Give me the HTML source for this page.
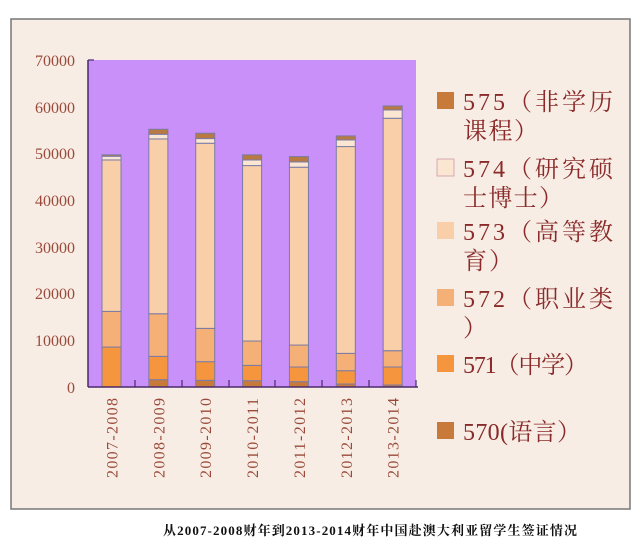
<!DOCTYPE html>
<html><head><meta charset="utf-8"><style>
body{margin:0;width:640px;height:549px;background:#fff;overflow:hidden}
</style></head><body>
<svg width="640" height="549" xmlns="http://www.w3.org/2000/svg" font-family="'Liberation Serif','Noto Serif CJK SC',serif">
<rect x="11" y="19" width="619" height="490" fill="#f7ede4" stroke="#777" stroke-width="1.5"/>
<rect x="88" y="60" width="328" height="327" fill="#c890f8"/>
<g id="bars" stroke="#7b7ba6" stroke-width="1"></g>
<line x1="88" y1="60" x2="88" y2="387" stroke="#4a2a6a" stroke-width="1.5"/>
<line x1="88" y1="387" x2="418" y2="387" stroke="#4a2a6a" stroke-width="1.5"/>
<g stroke="#4a2a6a" stroke-width="1.2">
<line x1="88" y1="60" x2="94" y2="60"/>
<line x1="135" y1="387" x2="135" y2="380"/><line x1="182" y1="387" x2="182" y2="380"/><line x1="229" y1="387" x2="229" y2="380"/><line x1="275" y1="387" x2="275" y2="380"/><line x1="322" y1="387" x2="322" y2="380"/><line x1="369" y1="387" x2="369" y2="380"/><line x1="416" y1="387" x2="416" y2="380"/>
</g>
<g fill="#9a4a3a" font-size="16" text-anchor="end">
<text x="75" y="66">70000</text><text x="75" y="113">60000</text><text x="75" y="159">50000</text><text x="75" y="206">40000</text><text x="75" y="253">30000</text><text x="75" y="299">20000</text><text x="75" y="346">10000</text><text x="75" y="393">0</text>
</g>
<g fill="#9a4a3a" font-size="16" id="xl"></g>
<g font-size="24" fill="#8a2a2a">
<rect x="437" y="92" width="17" height="17" fill="#c87a3a"/><text x="463" y="110" textLength="150">575（非学历</text><text x="463" y="139" textLength="75">课程）</text>
<rect x="437" y="159" width="17" height="17" fill="#fbe6d2" stroke="#c9a" stroke-width="0.8"/><text x="463" y="177" textLength="150">574（研究硕</text><text x="463" y="206" textLength="100">士博士）</text>
<rect x="437" y="222" width="17" height="17" fill="#f8cfa8"/><text x="463" y="240" textLength="150">573（高等教</text><text x="463" y="269" textLength="50">育）</text>
<rect x="437" y="289" width="17" height="17" fill="#f5b078"/><text x="463" y="307" textLength="150">572（职业类</text><text x="463" y="336">）</text>
<rect x="437" y="355" width="17" height="17" fill="#f5963e"/><text x="463" y="373" textLength="125">571（中学）</text>
<rect x="437" y="422" width="17" height="17" fill="#c87a3a"/><text x="463" y="440" textLength="118">570(语言）</text>
</g>
<text x="163" y="535" textLength="414" font-size="13" font-weight="bold" fill="#111">从2007-2008财年到2013-2014财年中国赴澳大利亚留学生签证情况</text>
<script>
var d=[[0,8550,16180,48600,49400,49700],[1570,6560,15680,53100,54100,55170],[1430,5420,12550,52180,53180,54320],[1350,4630,9840,47400,48600,49700],[1140,4280,8980,47050,48190,49330],[640,3490,7200,51470,52900,53750],[430,4280,7770,57530,59300,60160]];
var c=["#c87a3a","#f5963e","#f5b078","#f8cfa8","#fbe6d2","#b87a40"];
var labs=["2007-2008","2008-2009","2009-2010","2010-2011","2011-2012","2012-2013","2013-2014"];
var g=document.getElementById("bars"),xl=document.getElementById("xl"),ns="http://www.w3.org/2000/svg";
function Y(v){return 387-v*327/70000}
d.forEach(function(b,i){var x=102+i*46.86,prev=0;b.forEach(function(v,j){if(v>prev){var r=document.createElementNS(ns,"rect");r.setAttribute("x",x);r.setAttribute("width",19);r.setAttribute("y",Y(v));r.setAttribute("height",Y(prev)-Y(v));r.setAttribute("fill",c[j]);g.appendChild(r);}prev=v;});
var t=document.createElementNS(ns,"text");var cx=111.5+i*46.86;t.setAttribute("transform","translate("+(cx+6)+",478) rotate(-90)");t.setAttribute("textLength","80");t.textContent=labs[i];xl.appendChild(t);});
</script>
</svg>
</body></html>
